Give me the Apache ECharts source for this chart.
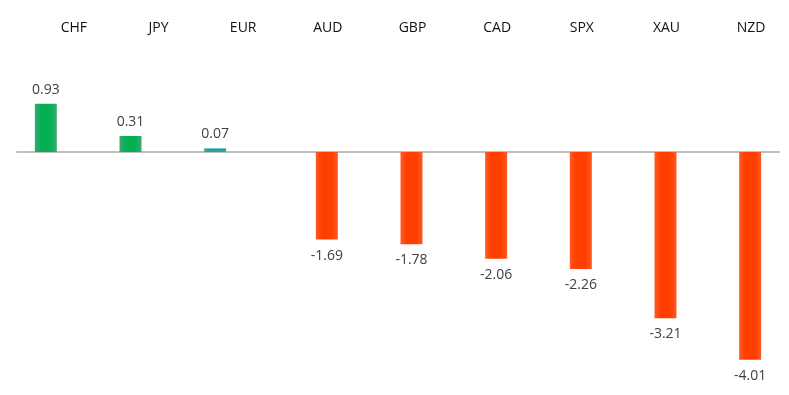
<!DOCTYPE html>
<html>
<head>
<meta charset="utf-8">
<script src="https://cdn.jsdelivr.net/npm/echarts@6/dist/echarts.min.js"></script>
<style>html,body{margin:0;padding:0;background:#fff}#c{width:789px;height:395px}</style>
</head>
<body>
<div id="c"></div>
<script>
const categories = ['CHF', 'JPY', 'EUR', 'AUD', 'GBP', 'CAD', 'SPX', 'XAU', 'NZD'];
const changes = [0.93, 0.31, 0.07, -1.69, -1.78, -2.06, -2.26, -3.21, -4.01];

const gainValues = changes.map(v => v > 0 ? v : '-');
const lossValues = changes.map(v => v < 0 ? v : '-');

function hGrad(edge, mid) {
  return new echarts.graphic.LinearGradient(0, 0, 1, 0, [
    { offset: 0, color: edge }, { offset: 0.28, color: mid },
    { offset: 0.72, color: mid }, { offset: 1, color: edge }
  ]);
}
const greenFill = hGrad('#3aa973', '#05b055');
const tealFill = hGrad('#3a9fa3', '#20a3a0');
const redFill = hGrad('#ff5a24', '#ff3f00');

const chart = echarts.init(document.getElementById('c'), null, { renderer: 'canvas' });
chart.setOption({
  animation: false,
  backgroundColor: '#ffffff',
  grid: { left: 17, right: 10, top: 74.3, bottom: 9.9, containLabel: false },
  xAxis: [
    {
      type: 'category', data: categories, position: 'bottom',
      axisLine: { onZero: true, lineStyle: { color: '#bfbfbf', width: 2 } },
      axisTick: { show: false }, axisLabel: { show: false }, splitLine: { show: false }
    },
    {
      type: 'category', data: categories, position: 'top',
      axisLine: { show: false }, axisTick: { show: false }, splitLine: { show: false },
      axisLabel: {
        show: true, margin: 39, color: '#111111',
        fontFamily: 'Open Sans', fontSize: 14, padding: [0, 0, 0, 29]
      }
    }
  ],
  yAxis: {
    type: 'value', min: -4.5, max: 1.5, show: false,
    splitLine: { show: false }
  },
  series: [
    {
      type: 'bar', name: 'gain', data: gainValues, xAxisIndex: 0,
      barWidth: 22, barGap: '22.7%',
      itemStyle: { color: p => (p.value < 0.1 ? tealFill : greenFill) },
      label: {
        show: true, position: 'top', distance: 7,
        color: '#404040', fontFamily: 'Open Sans', fontSize: 14,
        formatter: p => p.value.toFixed(2)
      }
    },
    {
      type: 'bar', name: 'loss', data: lossValues, xAxisIndex: 0,
      barWidth: 22, barGap: '22.7%',
      itemStyle: { color: redFill },
      label: {
        show: true, position: 'bottom', distance: 9,
        color: '#404040', fontFamily: 'Open Sans', fontSize: 14,
        formatter: p => p.value.toFixed(2)
      }
    }
  ]
});
</script>
</body>
</html>
